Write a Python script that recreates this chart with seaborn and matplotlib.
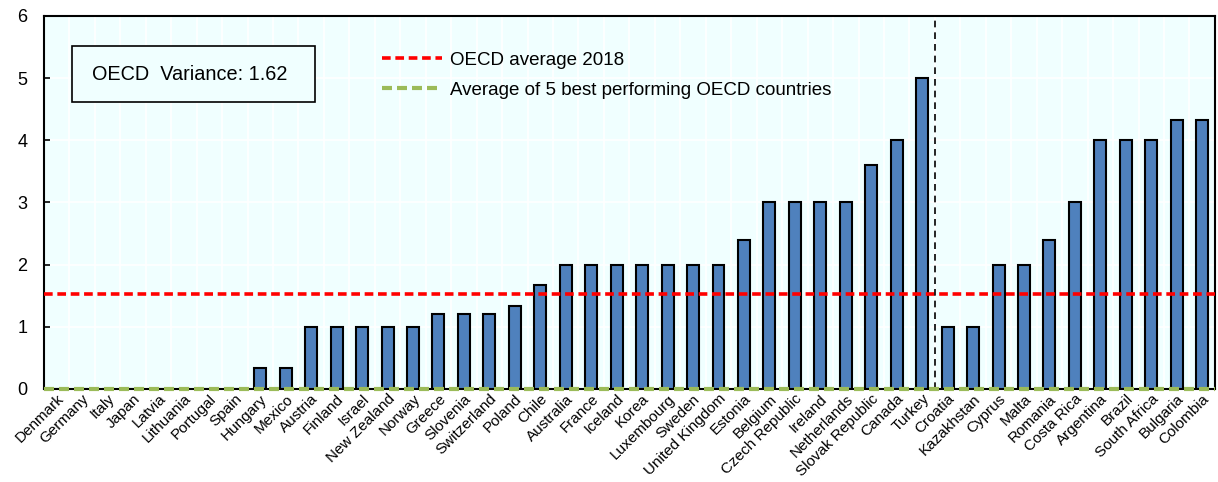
"""
plot.py
Bar chart of country scores with OECD average lines.
"""

import numpy as np
import pandas as pd
import seaborn as sns
import matplotlib.pyplot as plt
from matplotlib.patches import Rectangle

countries = [
    "Denmark", "Germany", "Italy", "Japan", "Latvia", "Lithuania", "Portugal", "Spain",
    "Hungary", "Mexico", "Austria", "Finland", "Israel", "New Zealand", "Norway",
    "Greece", "Slovenia", "Switzerland", "Poland", "Chile", "Australia", "France",
    "Iceland", "Korea", "Luxembourg", "Sweden", "United Kingdom", "Estonia", "Belgium",
    "Czech Republic", "Ireland", "Netherlands", "Slovak Republic", "Canada", "Turkey",
    "Croatia", "Kazakhstan", "Cyprus", "Malta", "Romania", "Costa Rica", "Argentina",
    "Brazil", "South Africa", "Bulgaria", "Colombia",
]
scores = [
    0, 0, 0, 0, 0, 0, 0, 0,
    0.33, 0.33, 1, 1, 1, 1, 1,
    1.2, 1.2, 1.2, 1.33, 1.67, 2, 2,
    2, 2, 2, 2, 2, 2.4, 3,
    3, 3, 3, 3.6, 4, 5,
    1, 1, 2, 2, 2.4, 3, 4,
    4, 4, 4.33, 4.33,
]
oecd_avg = 1.53
best5_avg = 0.0
oecd_variance = 1.62
n_oecd = 35  # first 35 bars are OECD members

df = pd.DataFrame({"country": countries, "score": scores})

sns.set_theme(style="white")
plt.rcParams["font.family"] = ["Liberation Sans", "DejaVu Sans"]
plt.rcParams.update({"text.color": "black", "xtick.color": "black", "ytick.color": "black",
                     "xtick.labelcolor": "black", "ytick.labelcolor": "black"})

fig, ax = plt.subplots(figsize=(12.18, 4.82), dpi=100)
fig.subplots_adjust(left=0.036, right=0.9975, top=0.967, bottom=0.193)
ax.set_facecolor("#F0FFFF")

sns.barplot(data=df, x="country", y="score", color="#4F81BD", saturation=1,
            width=0.47, edgecolor="black", linewidth=1.5, ax=ax, zorder=3)

n = len(countries)
ax.set_xlim(-0.5, n - 0.5)
ax.set_ylim(0, 6)

# white grid between categories and at integer levels
bounds = np.arange(-0.5, n, 1.0)
ax.set_xticks(bounds, minor=True)
ax.set_yticks(range(7))
ax.grid(axis="x", which="minor", color="white", linewidth=1.2, zorder=0)
ax.grid(axis="y", which="major", color="white", linewidth=1.2, zorder=0)
ax.set_axisbelow(True)

ax.set_xticks(range(n))
ax.set_xticklabels(countries, rotation=45, ha="right", rotation_mode="anchor", fontsize=11)
ax.tick_params(axis="x", which="major", length=0, pad=2)
ax.tick_params(axis="x", which="minor", direction="in", length=4, width=1.2, color="black")
ax.tick_params(axis="y", direction="in", length=4, width=1.2, labelsize=13, pad=12,
               left=True)
ax.set_xlabel("")
ax.set_ylabel("")

for sp in ax.spines.values():
    sp.set_visible(True)
    sp.set_color("black")
    sp.set_linewidth(1.5)

ax.axhline(oecd_avg, color="#FF0000", linewidth=2.6, linestyle=(0, (2.4, 1.3)),
           zorder=4, label="OECD average 2018")
ax.axhline(best5_avg, color="#9BBB59", linewidth=3, linestyle=(0, (2.4, 1.2)),
           zorder=5, clip_on=False, label="Average of 5 best performing OECD countries")

ax.axvline(n_oecd - 0.5, color="black", linewidth=1.2, linestyle=(0, (4, 3)), zorder=4)

# variance box
ax.add_patch(Rectangle((0.0239, 0.769), 0.2075, 0.150, transform=ax.transAxes,
                       facecolor="#F0FFFF", edgecolor="black", linewidth=1.2, zorder=6))
ax.text(0.1245, 0.843, f"OECD  Variance: {oecd_variance:.2f}", transform=ax.transAxes,
        fontsize=14.3, ha="center", va="center", zorder=7)

ax.legend(loc="upper left", bbox_to_anchor=(0.274, 0.95), frameon=False, fontsize=13.5,
          handlelength=3.2, handletextpad=0.45, labelspacing=0.7)

plt.savefig("out.png", dpi=100)
plt.close()
